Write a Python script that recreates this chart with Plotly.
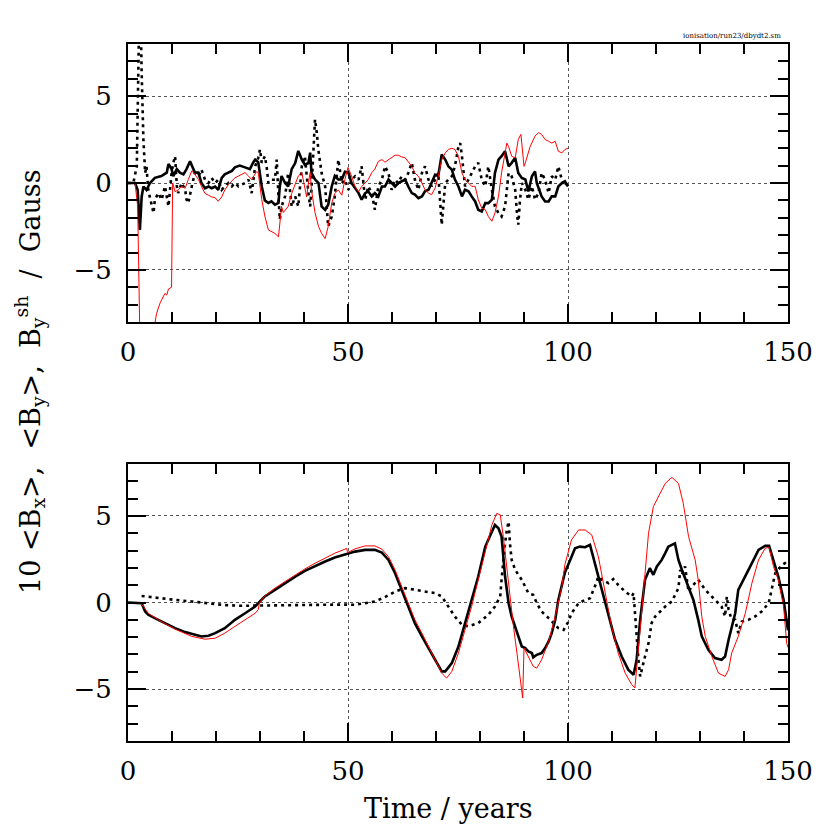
import plotly.graph_objects as go

# ---------------- data (time in years, field values) ----------------
top_solid = [(0,0),(1.6,0),(2.2,-0.4),(2.7,-2.7),(3.1,-0.8),(3.5,-0.2),(4.2,-0.4),(5.0,0),(6.1,0.3),(7.6,0.4),
 (8.8,0.6),(9.2,1.1),(9.9,0.8),(10.3,0.4),(11.1,0.8),(11.8,0.6),(12.6,0.5),(13.3,0.8),(14.1,1.25),(14.5,1.0),
 (15.2,0.6),(16.0,0.6),(16.7,0),(17.5,-0.3),(18.3,-0.2),(19.0,-0.3),(19.8,-0.2),(20.5,-0.4),(21.3,0.3),(22.0,0.5),
 (23.6,0.7),(24.3,0.9),(25.4,1.0),(26.6,0.9),(27.7,0.8),(28.5,1.2),(28.9,1.35),(29.6,1.2),(30.4,-0.2),(31.1,-1.0),
 (31.9,-1.15),(32.6,-1.05),(33.4,-1.25),(34.2,-1.15),(34.5,-0.2),(34.9,0.4),(35.7,0),(36.4,-0.2),(37.2,0.8),(38.0,1.15),
 (38.7,1.85),(39.5,1.35),(40.2,1.05),(41.0,1.15),(41.4,1.75),(41.7,0.6),(42.5,0.2),(43.3,0),(44.0,-1.35),(44.8,-1.55),
 (45.5,-1.25),(46.3,-0.2),(47.0,0.4),(47.8,0.2),(48.6,0.2),(49.3,0.65),(50.1,0.6),(50.8,0),(52.4,-0.58),(53.1,-0.96),
 (53.9,-0.58),(54.6,-0.48),(55.4,-0.77),(56.1,-0.58),(56.9,-0.77),(57.7,-0.2),(58.4,-0.2),(59.2,0.2),(59.9,0),(60.7,-0.2),
 (61.4,0),(62.2,0.1),(63.0,0.2),(63.7,-0.2),(64.5,-0.58),(65.2,-0.67),(66.0,-0.87),(66.8,-0.77),(67.5,-0.48),(68.3,-0.39),
 (69.0,0),(69.8,0.48),(70.5,0.39),(71.3,1.64),(72.1,1.35),(72.8,0.96),(73.6,0.77),(74.3,0.2),(75.1,-0.2),(75.9,-0.77),
 (76.6,-0.39),(77.4,-0.48),(78.1,-0.77),(78.9,-1.06),(79.6,-1.54),(80.4,-1.64),(81.2,-1.16),(81.9,-1.16),(82.7,-0.96),(83.4,0.58),
 (84.2,1.35),(84.9,1.54),(85.7,1.83),(86.5,0.96),(87.2,1.16),(88.0,1.45),(88.7,0.58),(89.5,0.29),(90.3,0.2),(91.0,-0.48),
 (91.8,0.39),(92.5,0.67),(92.9,0),(94.0,-0.77),(94.8,-1.06),(95.6,-1.06),(96.3,-0.77),(97.1,-0.77),(97.8,-0.2),(98.6,0),
 (99.3,0.1),(100,-0.2)]

top_dotted = [(0,0),(1.2,0),(2.0,0.96),(2.5,8.3),(2.7,12),(3.1,6.4),(3.5,2.5),(3.9,0.58),(4.2,0.96),(4.6,-0.39),
 (5.4,-1.35),(5.8,-1.73),(6.1,-0.96),(6.9,-0.58),(7.65,-0.96),(8.4,-0.19),(9.2,-1.35),(9.9,0.58),(10.3,1.16),(10.7,1.54),
 (11.1,-0.19),(11.4,-0.58),(12.2,0),(13.0,-0.39),(13.3,-0.96),(13.7,-1.16),(14.5,-0.19),(15.2,0.58),(16.0,0.39),(16.7,0.77),
 (17.5,0.19),(18.3,0),(19.0,0.29),(19.8,0),(20.5,0.19),(21.3,-0.39),(22.0,-0.19),(22.8,0),(23.6,-0.19),(24.3,0),
 (25.1,-0.19),(25.8,-0.1),(26.6,0),(27.4,0.19),(28.1,-0.58),(28.9,0.96),(29.6,1.45),(30.0,1.93),(30.4,1.16),(31.1,1.54),
 (31.5,0.96),(31.9,0),(32.65,0.19),(33.4,0.19),(33.8,1.35),(34.2,-0.77),(34.5,-2.1),(34.9,-1.35),(35.7,-0.77),(36.4,0.58),
 (37.2,-1.35),(38.0,-0.77),(38.7,-1.35),(39.5,0.96),(40.2,1.54),(41.0,-0.58),(41.4,-1.35),(41.7,-0.39),(42.5,3.66),(42.9,2.9),
 (43.25,1.93),(44.0,0.58),(44.8,-0.19),(45.5,-2.5),(46.3,-1.93),(47.0,-0.77),(47.8,1.35),(48.6,0),(49.3,0.19),(50.1,-0.39),
 (50.8,0.19),(51.6,0.39),(52.4,0.19),(53.1,0.96),(53.9,-0.96),(54.6,-0.19),(55.4,-0.58),(56.1,-1.54),(56.9,-0.19),(57.7,0.19),
 (58.4,0.96),(59.2,0.58),(59.9,-0.39),(60.7,0.19),(61.4,0),(62.2,0.39),(63.0,0.19),(63.7,0.58),(64.5,1.16),(65.2,0.19),
 (66.0,-0.39),(66.8,0.58),(67.5,0.96),(68.3,0.19),(69.0,-0.19),(69.8,0.19),(70.5,0.58),(71.3,-2.4),(71.7,-0.96),(72.1,0),
 (72.8,0.19),(73.6,0.39),(74.3,0.96),(75.1,2.1),(75.5,2.3),(75.9,1.54),(76.6,-0.19),(77.4,0.19),(78.1,0.58),(78.9,0.96),
 (79.6,1.16),(80.4,0.19),(81.2,-0.19),(81.9,0.96),(82.7,-0.39),(83.4,-1.35),(84.2,-1.73),(84.9,-1.93),(85.7,-1.35),(86.5,0.58),
 (87.2,0.39),(88.0,-0.39),(88.4,-1.73),(88.7,-2.4),(89.1,-0.96),(89.5,0),(90.3,-0.39),(91.0,-0.96),(91.8,-0.19),(92.5,-0.96),
 (93.3,-0.58),(94.0,0.58),(94.8,0.19),(95.6,-0.58),(96.3,0.39),(97.1,0.19),(97.8,0.96),(98.6,0.19),(99.3,-0.19),(99.7,0)]

top_red = [(0,0),(1.6,0),(2.2,-1.35),(2.9,-12),(5.5,-9),(6.1,-8.1),(6.5,-7.5),(7.3,-6.9),(8.0,-6.55),(8.4,-6.35),
 (8.8,-6.45),(9.2,-6.1),(9.9,-6.0),(10.15,0),(10.7,-0.5),(11.4,-0.4),(12.2,-0.2),(13.0,-0.3),(13.7,0.2),(14.5,0.7),
 (15.2,0.5),(16.0,0.2),(16.7,-0.2),(17.5,-0.6),(18.3,-0.7),(19.0,-0.8),(19.8,-0.85),(20.5,-1.05),(21.3,-0.8),(22.0,-0.4),
 (22.8,-0.1),(23.6,0.1),(24.3,0.3),(25.1,0.4),(25.8,0.5),(26.6,0.6),(27.4,0.4),(28.1,0.2),(29.2,0.65),(29.6,0.6),
 (30.4,-0.95),(31.1,-1.9),(31.9,-2.7),(32.6,-2.8),(33.4,-2.9),(34.2,-3.1),(34.9,-1.35),(35.3,-1.7),(36.4,-1.35),(37.2,-0.6),
 (38.0,0),(38.7,0.4),(39.5,0.6),(40.2,-0.4),(40.6,-0.8),(41.0,0),(41.4,0.6),(41.7,-0.4),(42.5,-1.7),(43.3,-2.5),
 (44.0,-2.9),(44.8,-3.2),(45.5,-2.5),(46.3,-1.15),(47.0,-0.6),(47.8,-0.4),(48.6,-0.7),(49.3,0.2),(50.0,0.9),(50.8,0.4),
 (51.6,-0.2),(52.4,-0.5),(53.1,-0.2),(53.9,0),(54.6,0.2),(55.4,0.6),(56.1,0.8),(56.9,1.25),(57.7,1.35),(58.4,1.2),
 (59.2,1.35),(59.9,1.5),(60.7,1.6),(61.4,1.6),(62.2,1.5),(63.0,1.45),(63.7,1.25),(64.5,0.96),(65.2,0.58),(66.0,0.39),
 (66.8,0),(67.5,-0.39),(68.3,-0.58),(69.0,-0.67),(69.8,-0.29),(70.5,0.39),(71.3,1.35),(72.1,1.73),(72.8,1.93),(73.6,2.0),
 (74.3,1.93),(75.1,1.54),(75.9,0.58),(76.6,0.19),(77.4,0),(78.1,-0.19),(78.9,-0.19),(79.6,-0.96),(80.4,-1.45),(81.2,-1.54),
 (81.9,-1.93),(82.7,-2.2),(83.4,-1.73),(84.2,-0.77),(84.9,0.58),(85.7,1.73),(86.1,2.3),(86.5,2.1),(87.2,1.54),(88.0,1.45),
 (88.7,2.5),(89.3,2.8),(89.7,1.93),(90.0,0.96),(90.3,1.16),(91.4,2.1),(92.5,2.7),(93.3,2.9),(94.0,2.8),(94.8,2.5),
 (95.6,2.4),(96.3,2.3),(97.1,2.4),(97.8,1.83),(98.6,1.73),(99.3,1.93),(100,2.0)]

bot_solid = [(0,0),(2.7,0),(3.1,-0.04),(3.9,-0.52),(4.6,-0.71),(6.1,-0.9),(8.4,-1.19),(10.7,-1.48),(13.0,-1.71),(15.2,-1.87),
 (16.7,-1.96),(18.3,-1.92),(19.8,-1.77),(22.0,-1.48),(24.3,-1.0),(26.6,-0.62),(28.9,-0.23),(30.0,0.06),(31.1,0.35),(33.4,0.73),
 (35.7,1.12),(38.0,1.5),(40.2,1.83),(42.5,2.12),(44.8,2.37),(47.0,2.6),(49.3,2.79),(51.6,2.94),(53.9,3.04),(56.1,3.04),
 (57.7,2.88),(59.2,2.46),(60.7,1.69),(62.2,0.73),(63.7,-0.23),(65.2,-1.19),(66.8,-1.96),(68.3,-2.63),(69.8,-3.31),(71.3,-3.98),
 (72.1,-3.98),(73.6,-3.5),(75.1,-2.54),(76.6,-1.19),(78.1,0.15),(79.6,1.5),(81.2,3.23),(82.7,4.1),(83.4,4.48),(84.2,4.29),
 (84.9,3.81),(85.7,1.5),(86.5,-0.04),(87.2,-0.81),(88.0,-1.38),(88.7,-1.96),(89.5,-2.54),(90.3,-2.63),(91.0,-2.83),(91.8,-2.92),
 (92.1,-3.17),(92.9,-3.02),(94.0,-2.92),(94.8,-2.63),(95.6,-2.25),(96.3,-1.77),(97.1,-1.0),(97.8,0.15),(99.3,1.74),(100.5,2.46),
 (101.6,3.13),(102.7,3.23),(103.9,3.19),(105.0,3.33),(106.1,2.27),(107.7,0.73),(109.2,-0.81),(110.7,-2.15),(112.2,-3.12),(113.7,-3.88),
 (114.9,-4.17),(115.6,-3.31),(116.4,-1.0),(117.5,1.31),(118.6,1.98),(119.4,1.6),(120.2,2.08),(121.3,2.46),(122.1,2.85),(122.8,3.23),
 (124.3,3.42),(125.1,2.46),(125.9,1.88),(127.4,0.92),(128.5,0.15),(129.6,-1.0),(130.4,-1.96),(131.9,-2.73),(133.4,-3.21),(134.9,-3.31),
 (135.7,-3.12),(136.5,-2.15),(138.0,-0.62),(138.7,0.73),(140.3,1.5),(141.8,2.27),(143.3,3.04),(144.8,3.27),(145.7,3.27),(146.7,2.46),
 (147.8,1.5),(149.0,0.15),(149.7,-1.0),(150,-1.6)]

bot_dotted = [(3.1,0.38),(6.9,0.25),(10.7,0.15),(14.5,0.06),(18.3,-0.04),(22.0,-0.15),(25.8,-0.19),(29.6,-0.17),(33.4,-0.17),(37.2,-0.17),
 (41.0,-0.15),(44.8,-0.13),(48.6,-0.12),(51.6,-0.13),(53.9,-0.04),(56.1,0.06),(58.4,0.31),(60.7,0.63),(63.0,0.83),(65.2,0.73),
 (67.5,0.63),(69.8,0.54),(71.3,0.35),(72.8,-0.23),(74.3,-0.81),(75.9,-1.29),(77.4,-1.38),(79.6,-1.19),(81.9,-0.71),(83.4,-0.23),
 (84.6,0.35),(84.9,1.31),(85.3,2.46),(85.7,3.42),(86.1,4.19),(86.5,4.67),(86.8,3.42),(87.2,2.46),(88.0,1.88),(89.5,1.31),
 (91.0,0.54),(92.1,0.44),(92.9,-0.04),(94.0,-0.52),(95.6,-0.9),(96.7,-1.19),(97.8,-1.48),(99.0,-1.58),(100.1,-1.1),(100.8,-0.62),
 (102.4,-0.04),(103.9,0.15),(105.0,0.25),(106.1,0.92),(106.9,1.5),(107.7,1.31),(109.2,1.12),(110.3,1.35),(111.4,1.02),(113.0,0.63),
 (114.5,0.35),(114.9,0.54),(115.2,-0.62),(115.6,-1.96),(116.0,-3.31),(116.4,-4.27),(116.9,-3.69),(117.5,-3.12),(118.3,-2.35),(119.0,-1.19),
 (119.8,-0.81),(120.5,-0.62),(122.1,-0.23),(123.6,0.06),(125.1,0.83),(125.5,1.88),(125.9,1.6),(126.6,2.08),(127.4,0.63),(128.1,0.92),
 (128.9,1.12),(129.6,1.31),(131.2,0.73),(133.4,0.15),(134.9,-0.23),(135.7,-0.81),(136.1,0.35),(136.5,-0.42),(137.2,-1.0),(138.0,-1.0),
 (138.7,-1.77),(139.5,-1.1),(141.0,-1.0),(142.5,-0.81),(144.0,-0.52),(145.6,-0.04),(146.3,0.73),(147.1,1.69),(147.8,1.88),(148.6,2.17),
 (149.3,2.27),(150,2.1)]

bot_red = [(0,0),(2.7,0),(3.5,-0.23),(4.6,-0.62),(6.9,-1.0),(10.7,-1.54),(14.5,-1.96),(17.5,-2.12),(19.8,-2.06),(22.0,-1.77),
 (24.3,-1.38),(26.6,-1.0),(28.9,-0.62),(29.6,-0.42),(29.85,-0.04),(31.1,0.38),(33.4,0.83),(35.7,1.21),(38.0,1.6),(40.2,1.94),
 (42.5,2.27),(44.8,2.56),(47.0,2.85),(49.3,3.08),(49.7,3.13),(49.9,2.88),(51.6,3.1),(53.9,3.27),(56.1,3.27),(57.7,3.08),
 (59.2,2.65),(60.7,1.88),(62.2,0.92),(63.7,-0.04),(65.2,-1.0),(66.8,-1.77),(68.3,-2.54),(69.8,-3.31),(71.3,-4.08),(72.4,-4.37),
 (73.6,-3.98),(75.1,-2.92),(76.6,-1.58),(78.1,-0.23),(79.6,1.31),(81.2,3.04),(82.7,4.48),(83.8,5.15),(84.6,5.06),(85.3,3.81),
 (86.1,1.88),(86.8,0.15),(87.6,-1.38),(88.4,-2.92),(89.1,-4.46),(89.7,-5.52),(90.0,-2.63),(91.0,-3.12),(92.1,-3.69),(92.9,-3.79),
 (94.0,-3.31),(95.6,-2.25),(97.1,-0.81),(98.6,0.92),(99.3,2.2),(100.8,3.62),(102.4,4.19),(103.9,4.19),(105.4,3.9),(106.9,2.65),
 (108.4,0.54),(109.9,-1.38),(111.4,-2.92),(113.0,-4.08),(114.5,-4.75),(115.2,-4.94),(116.8,-0.42),(118.3,4.0),(119.4,5.54),(120.5,6.12),
 (122.1,6.88),(123.6,7.23),(125.1,6.88),(126.2,5.73),(127.4,3.81),(128.9,2.46),(129.6,1.31),(130.4,-0.81),(131.2,-1.96),(132.7,-3.12),
 (134.2,-4.08),(135.7,-4.27),(136.5,-3.88),(137.2,-2.92),(138.7,-1.96),(140.3,-0.62),(141.8,1.12),(143.3,2.46),(144.8,3.13),(145.7,3.19),
 (146.7,2.08),(147.8,1.31),(149.0,-0.23),(149.7,-2.35),(150,-2.6)]

x_ticks = [0, 50, 100, 150]
y_ticks = [-5, 0, 5]
x_title = "Time / years"
y_title = "10 &lt;B<sub>x</sub>&gt;,  &lt;B<sub>y</sub>&gt;,  B<sub>y</sub><sup>sh</sup>  /  Gauss"
file_tag = "ionisation/run23/dbydt2.sm"

# ---------------- figure ----------------
FONT = "DejaVu Serif"
fig = go.Figure()

def add(series, xa, ya, style):
    t, v = zip(*series)
    fig.add_trace(go.Scatter(x=list(t), y=list(v), mode="lines", xaxis=xa, yaxis=ya,
                             line=style, showlegend=False, hoverinfo="skip"))

solid_style = dict(color="black", width=2.6)
dot_style = dict(color="black", width=2.6, dash="3px,4px")
red_style = dict(color="#ff0000", width=1)

add(top_solid, "x", "y", solid_style)
add(top_dotted, "x", "y", dot_style)
add(top_red, "x", "y", red_style)
add(bot_solid, "x2", "y2", solid_style)
add(bot_dotted, "x2", "y2", dot_style)
add(bot_red, "x2", "y2", red_style)

axis_common = dict(
    showline=True, linewidth=2, linecolor="black", mirror="allticks",
    ticks="inside", ticklen=18, tickwidth=2, tickcolor="black",
    showgrid=True, gridcolor="#555555", gridwidth=1, griddash="dot",
    zeroline=False, tickfont=dict(family=FONT, size=26, color="black"),
)
xminor = dict(dtick=10, tick0=0, ticks="inside", ticklen=10, tickwidth=2, tickcolor="black", showgrid=False)
yminor = dict(dtick=1, tick0=0, ticks="inside", ticklen=10, tickwidth=2, tickcolor="black", showgrid=False)

fig.update_layout(
    width=830, height=830,
    margin=dict(l=128, r=42, t=44, b=89),
    paper_bgcolor="white", plot_bgcolor="white",
    xaxis=dict(domain=[0, 1], anchor="y", range=[0, 150], tickvals=x_ticks,
               minor=xminor, ticklabelstandoff=6, **axis_common),
    yaxis=dict(domain=[0.6011, 1], anchor="x", range=[-8, 8], tickvals=y_ticks,
               minor=yminor, ticklabelstandoff=9, **axis_common),
    xaxis2=dict(domain=[0, 1], anchor="y2", range=[0, 150], tickvals=x_ticks,
                minor=xminor, ticklabelstandoff=6, **axis_common),
    yaxis2=dict(domain=[0, 0.3974], anchor="x2", range=[-8, 8], tickvals=y_ticks,
                minor=yminor, ticklabelstandoff=9, **axis_common),
    annotations=[
        dict(text=x_title, xref="paper", yref="paper", x=0.485, y=-0.097,
             showarrow=False, font=dict(family=FONT, size=27, color="black"),
             xanchor="center", yanchor="middle"),
        dict(text=y_title, xref="paper", yref="paper", x=-0.149, y=0.516,
             showarrow=False, textangle=-90, font=dict(family=FONT, size=27, color="black"),
             xanchor="center", yanchor="middle"),
        dict(text=file_tag, xref="paper", yref="paper", x=0.992, y=1.011,
             showarrow=False, font=dict(family=FONT, size=7, color="black"),
             xanchor="right", yanchor="middle"),
    ],
)

fig.write_html("out.html", config={"displayModeBar": False},
               post_script="document.body.style.margin='0';document.body.style.overflow='hidden';")
